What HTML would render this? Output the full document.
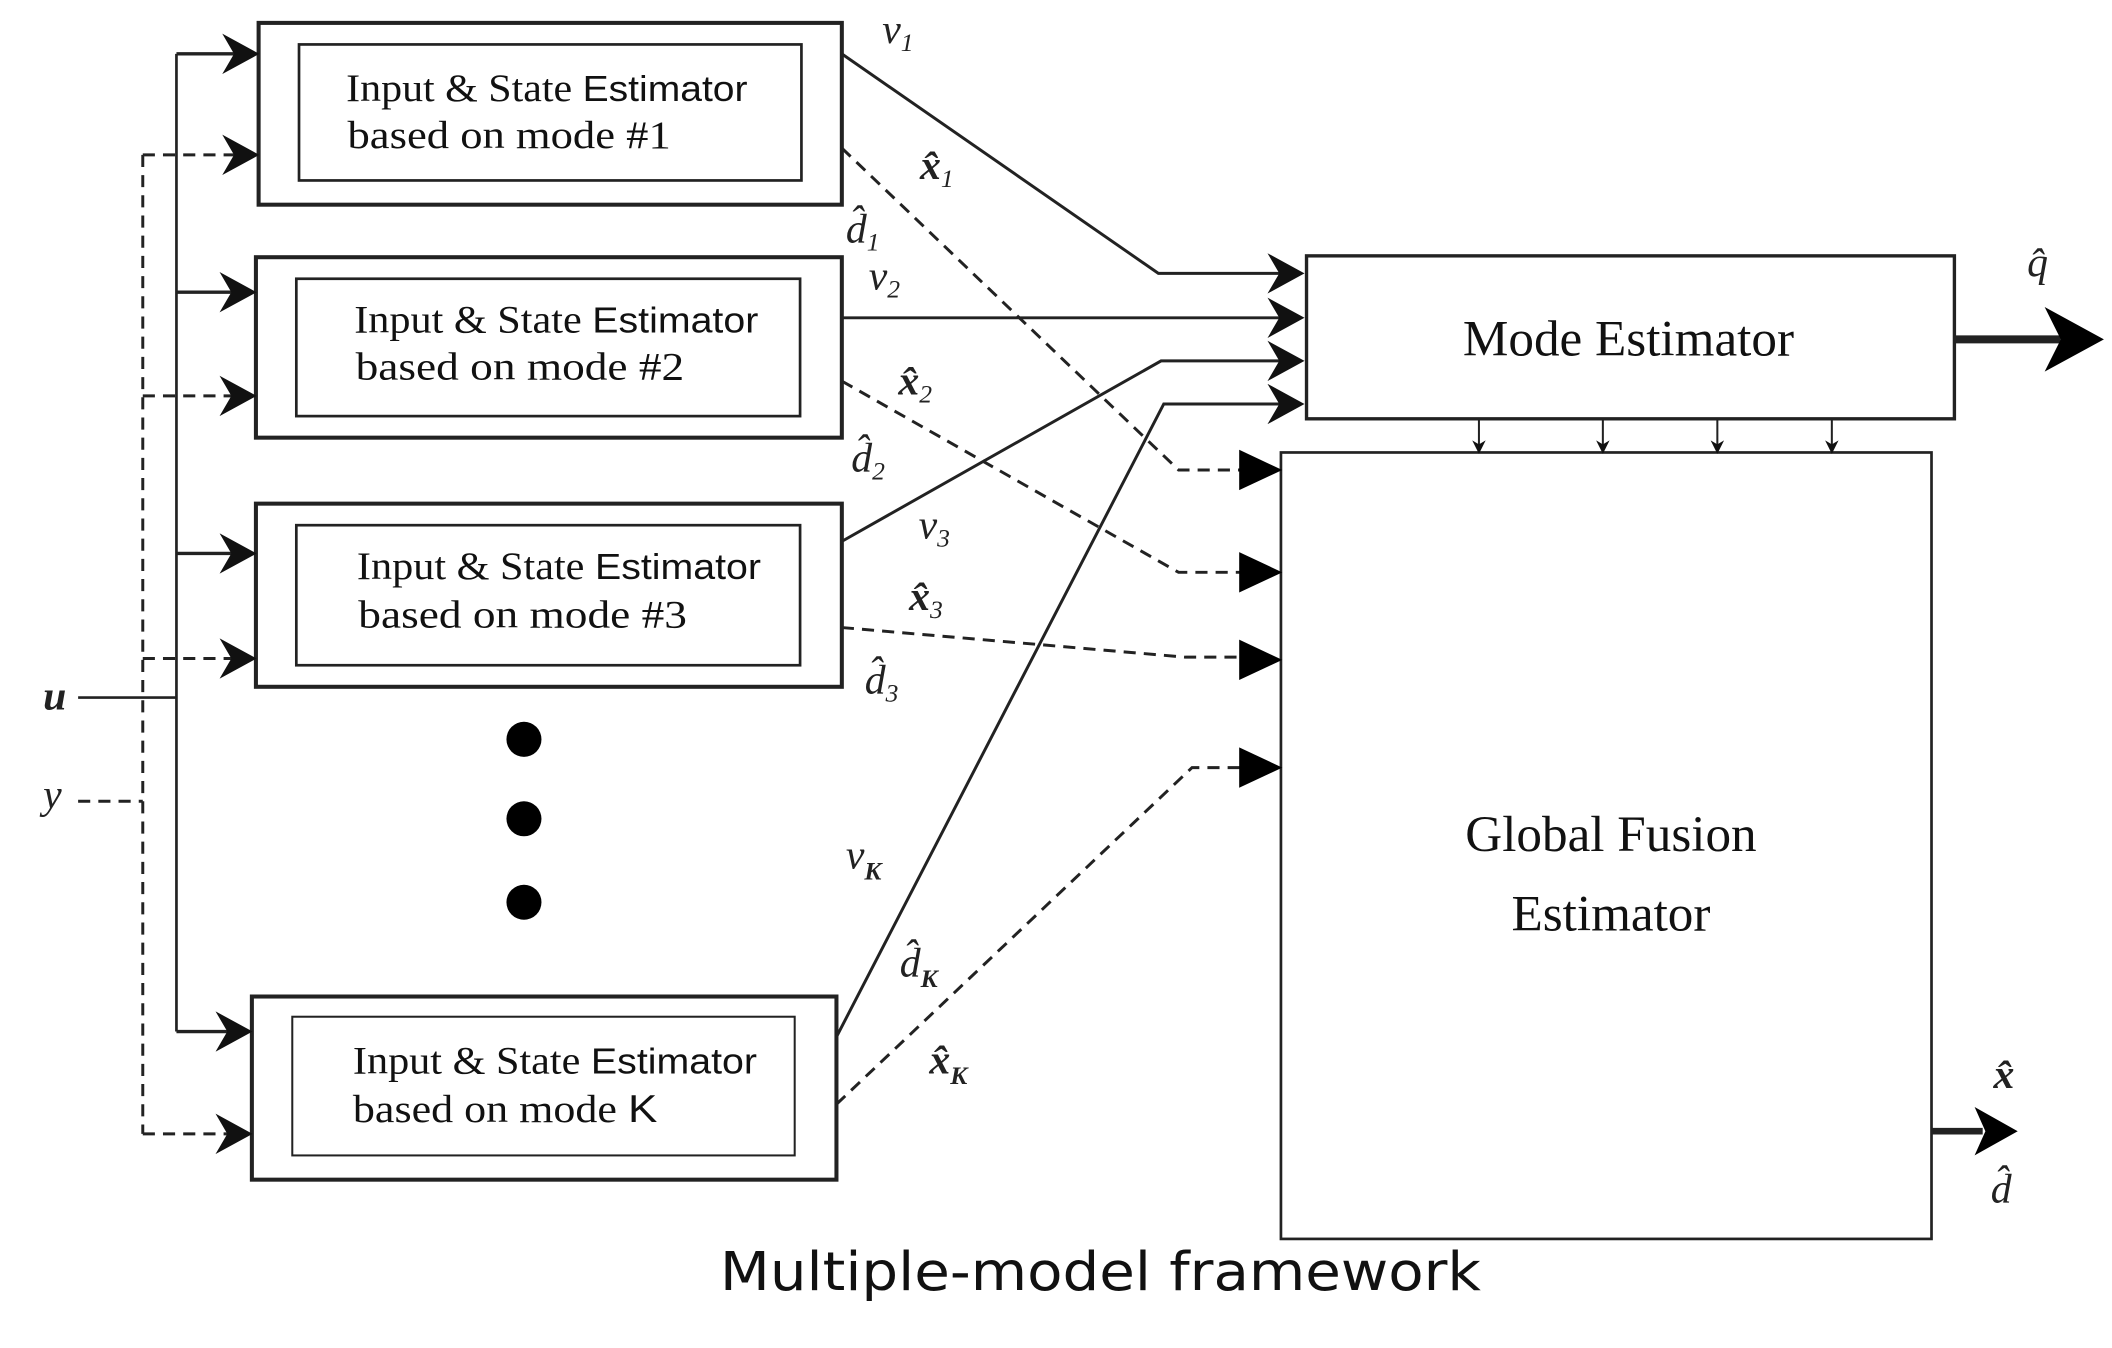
<!DOCTYPE html>
<html><head><meta charset="utf-8"><style>html,body{margin:0;padding:0;background:#fff}svg{display:block}</style></head>
<body>
<svg width="2112" height="1348" viewBox="0 0 1568 1001" preserveAspectRatio="none" xmlns="http://www.w3.org/2000/svg">
<defs>
<marker id="ba" markerWidth="30" markerHeight="30" refX="20" refY="12" orient="auto" markerUnits="userSpaceOnUse" viewBox="0 0 24 24">
<path d="M0,0 L22,12 L0,24 L7,12 Z" fill="#111"/></marker>
<marker id="sm" markerWidth="10" markerHeight="12" refX="8" refY="5" orient="auto" markerUnits="userSpaceOnUse" viewBox="0 0 10 10">
<path d="M0,0 L10,5 L0,10 L3,5 Z" fill="#111"/></marker>
</defs>
<g fill="none" stroke="#222">
<rect x="192" y="17" width="433" height="135" stroke-width="3"/><rect x="222" y="33" width="373" height="101" stroke-width="2"/>
<rect x="190" y="191" width="435" height="134" stroke-width="3"/><rect x="220" y="207" width="374" height="102" stroke-width="2"/>
<rect x="190" y="374" width="435" height="136" stroke-width="3"/><rect x="220" y="390" width="374" height="104" stroke-width="2"/>
<rect x="187" y="740" width="434" height="136" stroke-width="3"/><rect x="217" y="755" width="373" height="103" stroke-width="1.5"/>
<rect x="970" y="190" width="481" height="121" stroke-width="2.5"/>
<rect x="951" y="336" width="483" height="584" stroke-width="2"/>
<path d="M58,518 H131 M131,40 V766" stroke-width="2"/>
<g stroke-width="2.5" marker-end="url(#ba)"><path d="M131,40 H190"/><path d="M131,217 H188"/><path d="M131,411 H188"/><path d="M131,766 H185"/></g>
<g stroke-dasharray="9,6" stroke-width="2.2">
<path d="M58,595 H106 M106,115 V842"/>
<path d="M106,115 H190" marker-end="url(#ba)"/><path d="M106,294 H188" marker-end="url(#ba)"/><path d="M106,489 H188" marker-end="url(#ba)"/><path d="M106,842 H185" marker-end="url(#ba)"/>
</g>
<g stroke-width="2.2">
<path d="M625,40 L860,203 H966" marker-end="url(#ba)"/>
<path d="M625,236 H966" marker-end="url(#ba)"/>
<path d="M625,402 L862,268 H966" marker-end="url(#ba)"/>
<path d="M621,770 L864,300 H966" marker-end="url(#ba)"/>
</g>
<g stroke-width="2.2" stroke-dasharray="9,6">
<path d="M625,110 L875,349 H922"/>
<path d="M625,283 L875,425 H922"/>
<path d="M625,466 L880,488 H922"/>
<path d="M621,820 L885,570 H922"/>
</g>
<g stroke-width="1.5" marker-end="url(#sm)"><path d="M1098,311 V335"/><path d="M1190,311 V335"/><path d="M1275,311 V335"/><path d="M1360,311 V335"/></g>
<path d="M1451,252 H1530" stroke-width="6"/>
<path d="M1434,840 H1472" stroke-width="5"/>
</g>
<g fill="#000">
<path d="M920,334 L952,349 L920,364 Z"/><path d="M920,410 L952,425 L920,440 Z"/><path d="M920,475 L952,490 L920,505 Z"/><path d="M920,555 L952,570 L920,585 Z"/>
<path d="M1518,228 L1562,252 L1518,276 L1530,252 Z"/>
<path d="M1466,822 L1498,840 L1466,858 L1474,840 Z"/>
<circle cx="389" cy="549" r="13"/><circle cx="389" cy="608" r="13"/><circle cx="389" cy="670" r="13"/>
</g>
<g font-family="Liberation Serif, serif" font-size="29" fill="#111">
<text x="257" y="75" textLength="298" lengthAdjust="spacingAndGlyphs">Input &amp; State <tspan font-family="Liberation Sans, sans-serif" font-size="27">Estimator</tspan></text>
<text x="258" y="110" textLength="240" lengthAdjust="spacingAndGlyphs">based on mode  #1</text>
<text x="263" y="247" textLength="300" lengthAdjust="spacingAndGlyphs">Input &amp; State <tspan font-family="Liberation Sans, sans-serif" font-size="27">Estimator</tspan></text>
<text x="264" y="282" textLength="244" lengthAdjust="spacingAndGlyphs">based on mode  #2</text>
<text x="265" y="430" textLength="300" lengthAdjust="spacingAndGlyphs">Input &amp; State <tspan font-family="Liberation Sans, sans-serif" font-size="27">Estimator</tspan></text>
<text x="266" y="466" textLength="244" lengthAdjust="spacingAndGlyphs">based on mode  #3</text>
<text x="262" y="797" textLength="300" lengthAdjust="spacingAndGlyphs">Input &amp; State <tspan font-family="Liberation Sans, sans-serif" font-size="27">Estimator</tspan></text>
<text x="262" y="833" textLength="226" lengthAdjust="spacingAndGlyphs">based on mode <tspan font-family="Liberation Sans, sans-serif">K</tspan></text>
<text x="1209" y="264" font-size="38" text-anchor="middle">Mode Estimator</text>
<text x="1196" y="632" font-size="38" text-anchor="middle">Global Fusion</text>
<text x="1196" y="691" font-size="38" text-anchor="middle">Estimator</text>
</g>
<g font-family="Liberation Serif, serif" font-style="italic" font-size="31" fill="#222">
<text x="32" y="527" font-weight="bold">u</text>
<text x="32" y="600">y</text>
<text x="655" y="32">ν<tspan font-size="19" dy="6">1</tspan></text>
<text x="683" y="133" font-weight="bold">x̂<tspan font-size="19" dy="6" font-weight="normal">1</tspan></text>
<text x="628" y="180">d̂<tspan font-size="19" dy="6">1</tspan></text>
<text x="645" y="215">ν<tspan font-size="19" dy="6">2</tspan></text>
<text x="667" y="293" font-weight="bold">x̂<tspan font-size="19" dy="6" font-weight="normal">2</tspan></text>
<text x="632" y="350">d̂<tspan font-size="19" dy="6">2</tspan></text>
<text x="682" y="400">ν<tspan font-size="19" dy="6">3</tspan></text>
<text x="675" y="453" font-weight="bold">x̂<tspan font-size="19" dy="6" font-weight="normal">3</tspan></text>
<text x="642" y="515">d̂<tspan font-size="19" dy="6">3</tspan></text>
<text x="628" y="645">ν<tspan font-size="19" dy="8" font-weight="bold">K</tspan></text>
<text x="668" y="725">d̂<tspan font-size="19" dy="8" font-weight="bold">K</tspan></text>
<text x="690" y="797" font-weight="bold">x̂<tspan font-size="19" dy="8">K</tspan></text>
<text x="1505" y="205">q̂</text>
<text x="1480" y="808" font-weight="bold">x̂</text>
<text x="1478" y="893">d̂</text>
</g>
<text x="817" y="958" font-family="DejaVu Sans, Liberation Sans, sans-serif" font-size="40" text-anchor="middle" fill="#111" textLength="565" lengthAdjust="spacingAndGlyphs">Multiple-model framework</text>
</svg>
</body></html>
